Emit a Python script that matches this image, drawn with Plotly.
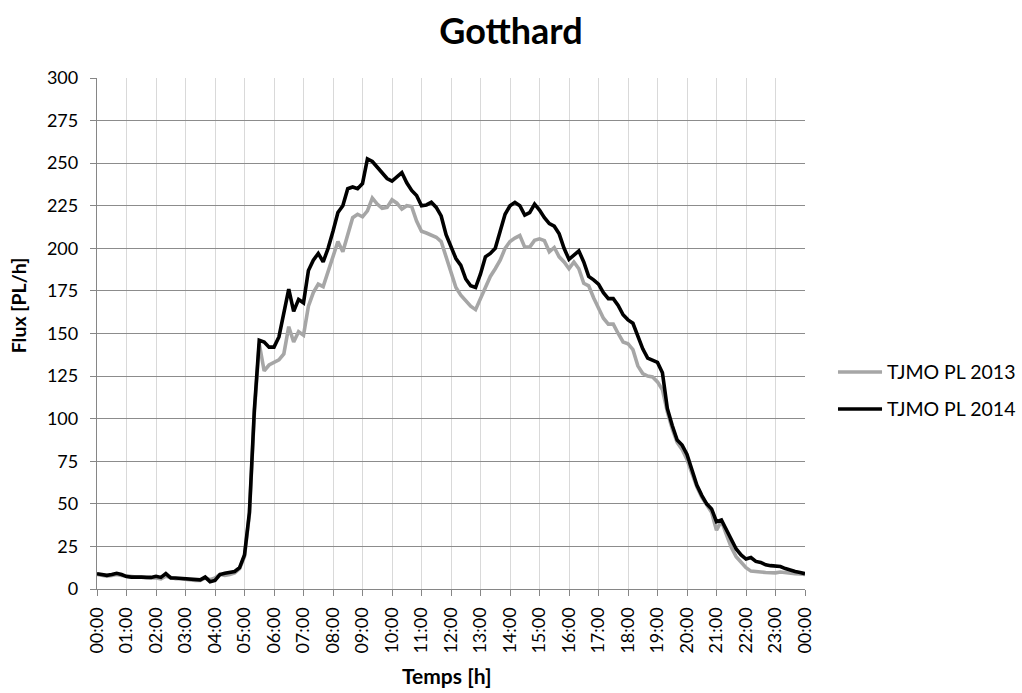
import plotly.graph_objects as go

# Time of day in hours, 10-minute steps from 00:00 to 24:00
hours = [i / 6 for i in range(145)]

# Heavy-goods-vehicle flow (TJMO PL) per 10-minute slot, one row per hour
flux_2013 = [
    8.5, 8.0, 7.5, 8.0, 8.5, 8.0,            # 00h
    7.5, 7.5, 7.0, 7.0, 6.5, 6.5,            # 01h
    6.5, 6.0, 7.5, 6.5, 6.0, 6.0,            # 02h
    5.5, 5.5, 5.0, 5.0, 6.5, 5.5,            # 03h
    6.5, 8.5, 8.0, 8.5, 9.5, 12.0,           # 04h
    19.0, 44.0, 103.0, 144.0, 128.0, 131.5,  # 05h
    133.0, 134.5, 138.0, 154.0, 145.0, 151.0,  # 06h
    149.0, 166.0, 174.0, 179.0, 177.5, 186.0,  # 07h
    196.0, 204.0, 198.0, 209.0, 218.0, 220.0,  # 08h
    218.5, 222.0, 229.5, 226.0, 223.5, 224.0,  # 09h
    228.5, 226.5, 223.0, 225.0, 224.5, 216.0,  # 10h
    210.0, 209.0, 208.0, 206.5, 204.0, 195.0,  # 11h
    186.0, 177.0, 172.5, 169.0, 166.0, 164.0,  # 12h
    170.5, 178.0, 183.5, 188.0, 193.0, 200.0,  # 13h
    204.0, 206.0, 207.5, 200.7, 200.7, 204.7,  # 14h
    205.6, 204.5, 198.0, 200.5, 195.0, 192.0,  # 15h
    188.0, 192.0, 188.0, 179.5, 178.0, 171.0,  # 16h
    164.5, 159.0, 155.5, 155.5, 150.0, 145.0,  # 17h
    144.0, 140.5, 131.0, 126.5, 125.0, 124.5,  # 18h
    121.6, 117.0, 104.0, 94.0, 86.0, 82.0,     # 19h
    76.0, 68.0, 60.0, 54.0, 49.0, 45.0,        # 20h
    34.5, 40.0, 32.0, 24.5, 19.0, 15.5,        # 21h
    12.5, 10.5, 10.0, 10.0, 9.7, 9.5,          # 22h
    9.5, 10.0, 9.5, 9.2, 9.0, 8.8,             # 23h
    8.5,                                       # 24h
]

flux_2014 = [
    9.0, 8.5, 8.0, 8.5, 9.2, 8.5,              # 00h
    7.3, 7.0, 7.2, 7.0, 6.8, 6.8,              # 01h
    7.5, 6.8, 9.0, 6.5, 6.5, 6.2,              # 02h
    6.0, 5.8, 5.6, 5.4, 7.0, 4.3,              # 03h
    5.0, 8.5, 9.3, 9.7, 10.3, 12.5,            # 04h
    20.0, 45.0, 105.0, 146.0, 145.0, 142.0,    # 05h
    142.0, 148.0, 162.0, 176.0, 163.0, 170.0,  # 06h
    168.0, 187.0, 193.0, 197.0, 192.0, 200.0,  # 07h
    210.0, 221.0, 225.0, 235.0, 236.0, 235.0,  # 08h
    238.0, 252.5, 251.0, 247.5, 244.5, 241.0,  # 09h
    239.5, 242.0, 244.5, 238.5, 234.0, 231.0,  # 10h
    225.0, 225.5, 227.0, 224.0, 219.0, 208.0,  # 11h
    201.0, 194.0, 190.0, 182.0, 178.0, 177.0,  # 12h
    185.0, 195.0, 197.0, 200.0, 210.0, 220.0,  # 13h
    225.0, 227.0, 225.0, 219.5, 221.0, 226.0,  # 14h
    222.5, 218.0, 214.5, 213.0, 208.5, 200.0,  # 15h
    193.5, 196.0, 198.5, 192.0, 183.5, 181.5,  # 16h
    179.0, 174.0, 170.5, 170.5, 166.5, 161.0,  # 17h
    158.0, 156.0, 148.0, 141.0, 135.5, 134.0,  # 18h
    133.0, 127.0, 106.0, 96.0, 87.5, 84.5,     # 19h
    79.0, 70.0, 61.0, 55.0, 50.0, 47.0,        # 20h
    39.5, 40.5, 35.0, 28.5, 23.5, 20.0,        # 21h
    17.6, 18.5, 16.2, 15.6, 14.2, 13.7,        # 22h
    13.5, 13.2, 12.0, 11.0, 10.3, 9.7,         # 23h
    9.0,                                       # 24h
]

series_names = ["TJMO PL 2013", "TJMO PL 2014"]
series_colors = ["#a6a6a6", "#000000"]

hour_ticks = list(range(25))
hour_labels = [f"{h % 24:02d}:00" for h in hour_ticks]
y_ticks = list(range(0, 301, 25))

FONT = "Lato, 'Open Sans', sans-serif"
LINE_W = 3.6

fig = go.Figure()
for name, color, values in zip(series_names, series_colors, [flux_2013, flux_2014]):
    fig.add_trace(go.Scatter(
        x=hours, y=values, mode="lines", name=name,
        line=dict(color=color, width=LINE_W),
    ))

# Legend drawn to the right of the plot area (keeps the plot area width fixed)
legend_shapes = []
legend_notes = []
for row, (name, color) in enumerate(zip(series_names, series_colors)):
    ly = 0.4247 - row * 0.0724
    legend_shapes.append(dict(
        type="line", xref="paper", yref="paper",
        x0=1.0466, x1=1.1088, y0=ly, y1=ly,
        line=dict(color=color, width=LINE_W),
    ))
    legend_notes.append(dict(
        text=name, xref="paper", yref="paper", x=1.1130, y=ly,
        xanchor="left", yanchor="middle", showarrow=False,
        font=dict(size=19.5),
    ))

fig.update_layout(
    width=1022, height=693,
    paper_bgcolor="white", plot_bgcolor="white",
    margin=dict(l=97, r=217, t=78, b=104),
    font=dict(family=FONT, color="#000000", size=18),
    title=dict(text="<b>Gotthard</b>", x=0.5, xanchor="center",
               y=0.955, yanchor="middle",
               font=dict(family=FONT, size=36, color="#000000")),
    showlegend=False,
    xaxis=dict(
        range=[0, 24], tickmode="array", tickvals=hour_ticks, ticktext=hour_labels,
        tickangle=-90, ticks="outside", ticklen=6, tickcolor="#868686",
        showline=True, linecolor="#868686", linewidth=1.3,
        showgrid=True, gridcolor="#d9d9d9", gridwidth=1.3,
        zeroline=False, tickfont=dict(size=18), ticklabelstandoff=4,
    ),
    yaxis=dict(
        range=[0, 300], tickmode="array", tickvals=y_ticks,
        ticks="outside", ticklen=6, tickcolor="#868686",
        showline=True, linecolor="#868686", linewidth=1.3,
        showgrid=True, gridcolor="#8c8c8c", gridwidth=1.3,
        zeroline=False, tickfont=dict(size=18), ticklabelstandoff=8,
    ),
    shapes=legend_shapes,
    annotations=[
        dict(text="<b>Flux [PL/h]</b>", xref="paper", yref="paper",
             x=-0.111, y=0.556, xanchor="center", yanchor="middle",
             textangle=-90, showarrow=False, font=dict(size=19.5)),
        dict(text="<b>Temps [h]</b>", xref="paper", yref="paper",
             x=0.495, y=-0.17, xanchor="center", yanchor="middle",
             showarrow=False, font=dict(size=21)),
    ] + legend_notes,
)

fig.write_html("out.html")
